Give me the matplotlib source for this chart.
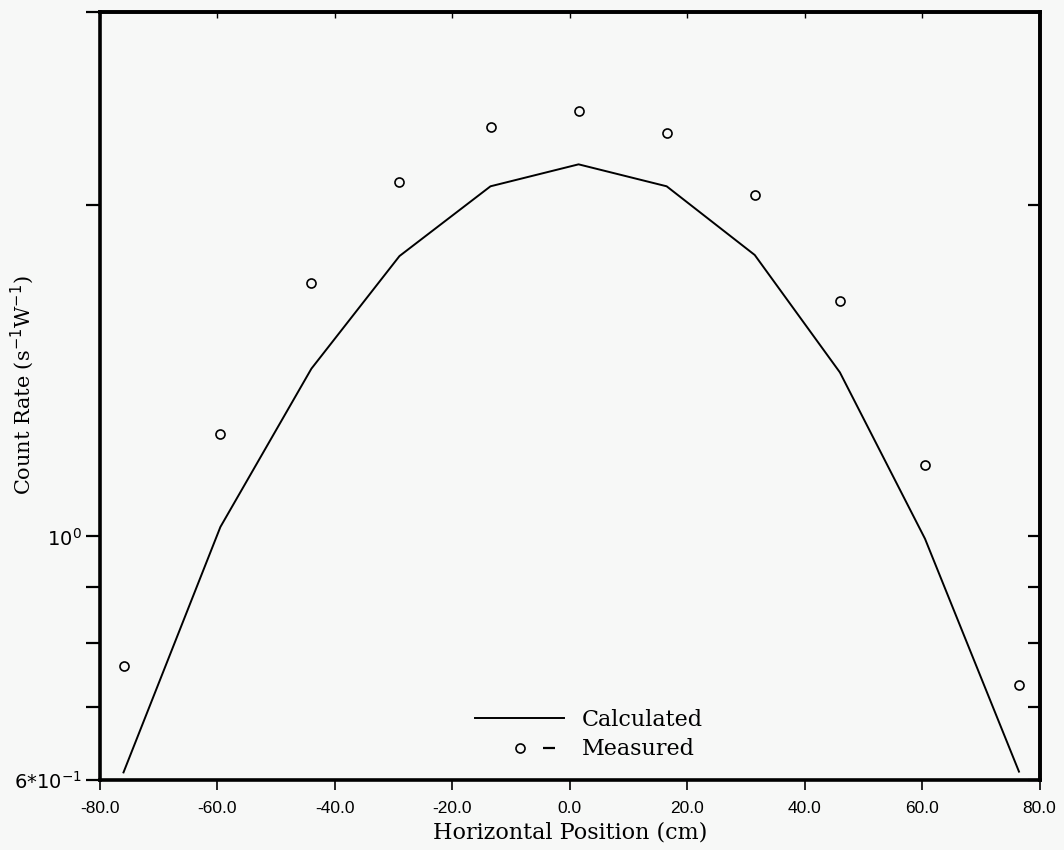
import numpy as np
import matplotlib
matplotlib.use("Agg")
import matplotlib.pyplot as plt
from matplotlib.lines import Line2D
from matplotlib.legend_handler import HandlerTuple
from matplotlib.ticker import FixedLocator, FixedFormatter, NullFormatter

# horizontal scan positions (cm)
x_pos = [-76.0, -59.5, -44.0, -29.0, -13.5, 1.5, 16.5, 31.5, 46.0, 60.5, 76.5]
# calculated count rate (s^-1 W^-1)
calculated = [0.610, 1.020, 1.421, 1.799, 2.082, 2.180, 2.082, 1.803, 1.410, 0.995, 0.611]
# measured count rate (s^-1 W^-1)
measured = [0.763, 1.238, 1.700, 2.099, 2.359, 2.439, 2.330, 2.043, 1.638, 1.161, 0.733]

x_ticks = [-80, -60, -40, -20, 0, 20, 40, 60, 80]
x_ticklabels = ["-80.0", "-60.0", "-40.0", "-20.0", "0.0", "20.0", "40.0", "60.0", "80.0"]
y_major = [0.6, 1.0]
y_major_labels = [r"$6{*}10^{-1}$", r"$10^{0}$"]
y_minor = [0.7, 0.8, 0.9, 2.0, 3.0]

bg = "#f7f8f7"
fig = plt.figure(figsize=(10.64, 8.5), dpi=100, facecolor=bg)
ax = fig.add_axes([0.094, 0.082, 0.883, 0.904], facecolor=bg)

ax.plot(x_pos, calculated, color="black", linewidth=1.4)
ax.plot(x_pos, measured, linestyle="none", marker="o", markersize=6.5,
        markerfacecolor="none", markeredgecolor="black", markeredgewidth=1.2)

ax.set_yscale("log")
ax.set_xlim(-80, 80)
ax.set_ylim(0.6, 3.0)

for s in ax.spines.values():
    s.set_linewidth(2.6)

# bottom / left ticks point outward
ax.set_xticks(x_ticks)
ax.set_xticklabels(x_ticklabels, fontsize=12.5, family="Liberation Sans")
ax.tick_params(axis="x", direction="out", length=7, width=1.2, pad=8)
ax.yaxis.set_major_locator(FixedLocator(y_major))
ax.yaxis.set_major_formatter(FixedFormatter(y_major_labels))
ax.yaxis.set_minor_locator(FixedLocator(y_minor))
ax.yaxis.set_minor_formatter(NullFormatter())
ax.tick_params(axis="y", which="both", direction="out", length=10, width=1.6,
               labelsize=14, pad=3)

# right / top ticks point inward
sec_y = ax.secondary_yaxis("right")
sec_y.yaxis.set_major_locator(FixedLocator(y_major))
sec_y.yaxis.set_minor_locator(FixedLocator(y_minor))
sec_y.yaxis.set_major_formatter(NullFormatter())
sec_y.yaxis.set_minor_formatter(NullFormatter())
sec_y.tick_params(which="both", direction="in", length=9, width=1.6)
sec_y.spines["right"].set_linewidth(2.6)

sec_x = ax.secondary_xaxis("top")
sec_x.set_xticks(x_ticks)
sec_x.set_xticklabels([])
sec_x.tick_params(direction="in", length=4, width=1.0)
sec_x.spines["top"].set_linewidth(2.6)

ax.set_xlabel("Horizontal Position (cm)", fontsize=16, family="DejaVu Serif", labelpad=4)
ax.set_ylabel(r"Count Rate (s$^{-1}$W$^{-1}$)", fontsize=15, family="DejaVu Serif")
ax.yaxis.set_label_coords(-0.068, 0.514)

blank = Line2D([], [], linestyle="none")
calc_h = Line2D([], [], color="black", linewidth=1.4)
circ_h = Line2D([], [], linestyle="none", marker="o", markersize=6.5,
                markerfacecolor="none", markeredgecolor="black", markeredgewidth=1.2)
dash_h = Line2D([], [], linestyle="none", marker="_", markersize=9,
                markeredgecolor="black", markeredgewidth=1.6)
ax.legend([calc_h, (blank, circ_h, dash_h)], ["Calculated", "Measured"],
          handler_map={tuple: HandlerTuple(ndivide=None, pad=0)},
          loc="lower left", bbox_to_anchor=(0.378, 0.0), frameon=False,
          prop={"family": "DejaVu Serif", "size": 16},
          handlelength=4.0, handletextpad=0.8, labelspacing=0.35)

fig.savefig("out.png", dpi=100, facecolor=bg)
